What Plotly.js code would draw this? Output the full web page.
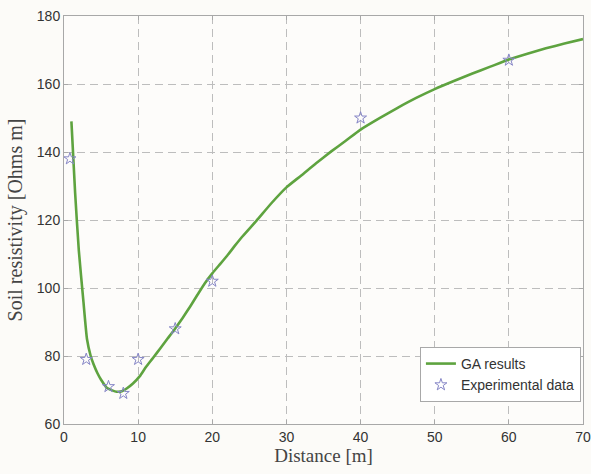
<!DOCTYPE html>
<html>
<head>
<meta charset="utf-8">
<script src="https://cdn.plot.ly/plotly-3.0.1.min.js"></script>
<style>html,body{margin:0;padding:0;background:#fcfbf8;}</style>
</head>
<body>
<div id="chart" style="width:591px;height:474px;"></div>
<script>
// GA results curve
const gaDistance = [1, 1.5, 2, 2.6, 3.1, 3.6, 4, 4.5, 5, 5.8, 6.5, 7.1, 7.8, 8.5, 9.3, 10.2, 11, 12, 13, 14, 15, 16, 17, 18, 19, 20, 21, 22, 23, 24, 26, 28, 30, 32, 34, 36, 38, 40, 42.5, 45, 47.5, 50, 52.5, 55, 57.5, 60, 62.5, 65, 67.5, 70];
const gaResistivity = [149, 128, 111, 96.5, 85, 80, 77.5, 75, 73, 70.6, 69.9, 69.5, 69.6, 70.5, 71.9, 74, 76.6, 79.4, 82.3, 85.2, 88.1, 91.2, 94.5, 98, 101.4, 104.3, 106.9, 109.5, 112.3, 115, 119.9, 125, 129.6, 133.1, 136.7, 140.1, 143.3, 146.6, 149.9, 153, 155.9, 158.5, 160.8, 163, 165.1, 167.2, 168.9, 170.5, 171.9, 173.2];
// Experimental data
const expDistance = [0.8, 3, 6, 8, 10, 15, 20, 40, 60];
const expResistivity = [138, 79, 71, 69, 79, 88, 102, 150, 167];

const xTicks = [0, 10, 20, 30, 40, 50, 60, 70];
const yTicks = [60, 80, 100, 120, 140, 160, 180];

const traces = [
  {x: gaDistance, y: gaResistivity, name: 'GA results', mode: 'lines',
   line: {color: '#5ea33f', width: 2.6, shape: 'spline', smoothing: 0.5}},
  {x: expDistance, y: expResistivity, name: 'Experimental data', mode: 'markers',
   marker: {symbol: 'star-open', size: 9, color: '#8585c6', line: {width: 1}}}
];

const axisCommon = {
  showgrid: true, gridcolor: '#bdbdbd', griddash: '8px,5px', gridwidth: 1,
  showline: true, linecolor: '#a8a8a8', linewidth: 1, mirror: 'ticks',
  ticks: 'inside', ticklen: 4, tickcolor: '#a8a8a8',
  zeroline: false,
  tickfont: {family: 'Liberation Sans, Arial, sans-serif', size: 14, color: '#333'}
};

const layout = {
  width: 591, height: 474,
  margin: {l: 64, r: 8, t: 16, b: 50},
  paper_bgcolor: '#fcfbf8', plot_bgcolor: '#fdfcfa',
  showlegend: true,
  legend: {x: 0.996, y: 0.054, xanchor: 'right', yanchor: 'bottom',
    bgcolor: '#ffffff', bordercolor: '#a8a8a8', borderwidth: 1,
    font: {family: 'Liberation Sans, Arial, sans-serif', size: 14, color: '#333'},
    tracegroupgap: 0},
  xaxis: Object.assign({}, axisCommon, {
    range: [0, 70], tickvals: xTicks, ticktext: xTicks.map(String),
    title: {text: 'Distance [m]', font: {family: 'Liberation Serif, Times New Roman, serif', size: 19, color: '#444'}, standoff: 4}
  }),
  yaxis: Object.assign({}, axisCommon, {
    range: [60, 180], tickvals: yTicks, ticktext: yTicks.map(String),
    title: {text: 'Soil resistivity [Ohms m]', font: {family: 'Liberation Serif, Times New Roman, serif', size: 20, color: '#444'}, standoff: 8}
  })
};

Plotly.newPlot('chart', traces, layout, {displayModeBar: false, staticPlot: true});
</script>
</body>
</html>
